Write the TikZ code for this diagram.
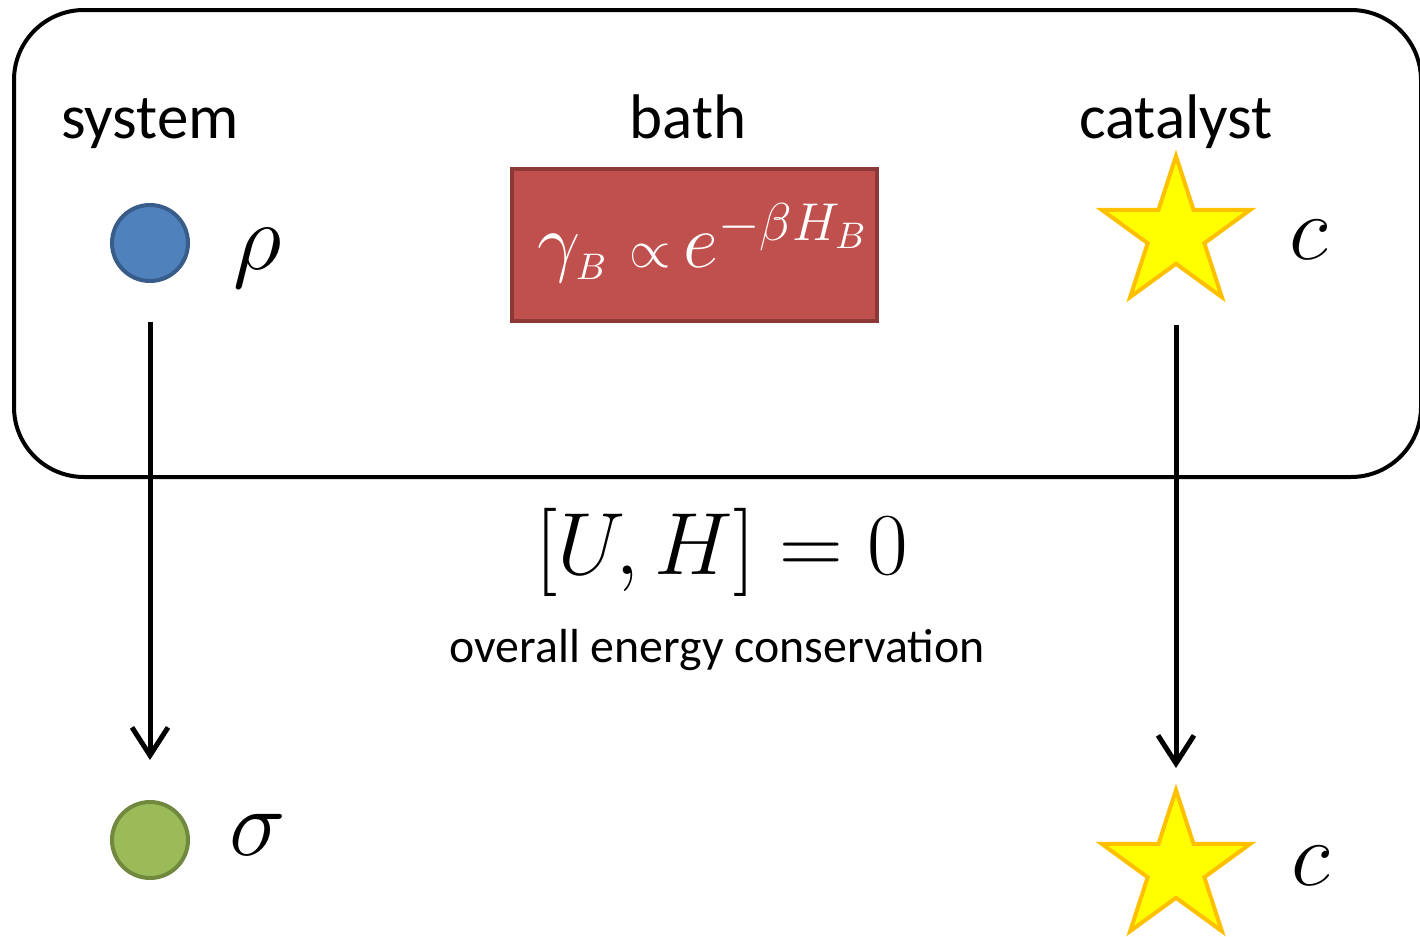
\documentclass[tikz,border=0pt]{standalone}
\usepackage{amsmath}
\usepackage{graphicx}
\usepackage{fontspec}
\setmainfont{Carlito}
\usetikzlibrary{shapes.geometric,arrows.meta}
\definecolor{bluefill}{HTML}{4F81BD}
\definecolor{blueline}{HTML}{385D8A}
\definecolor{greenfill}{HTML}{9BBB59}
\definecolor{greenline}{HTML}{71893F}
\definecolor{redfill}{HTML}{C0504D}
\definecolor{redline}{HTML}{8C3836}
\definecolor{starfill}{HTML}{FFFF00}
\definecolor{starline}{HTML}{FFC000}
\newcommand{\scaledmath}[2]{\scalebox{#1}{\fontsize{20}{24}\selectfont$#2$}}
\tikzset{
  lbl/.style={font=\fontsize{31.5}{36}\selectfont, inner sep=0pt, anchor=base},
  mathlbl/.style={inner sep=0pt},
  dot/.style={circle, minimum size=38pt, inner sep=0pt, line width=2pt},
  starnode/.style={star, star points=5, star point ratio=2.618, minimum size=78pt, inner sep=0pt, line width=2pt, draw=starline, fill=starfill},
  arr/.style={line width=2.5pt, -{Straight Barb[length=14pt,width=18pt,line width=2.5pt]}},
}
\begin{document}
\begin{tikzpicture}[x=0.5pt,y=-0.5pt]
\clip (0,0) rectangle (1420,937);
% outer frame
\draw[line width=2pt, rounded corners=35pt] (14,10) rectangle (1421,477);
% headings
\node[lbl] (hsys) at (150,138) {system};
\node[lbl] (hbath) at (688,138) {bath};
\node[lbl] (hcat) at (1176,138) {catalyst};
% system
\node[dot, fill=bluefill, draw=blueline] (rho) at (150,243) {};
\node[mathlbl] (rholbl) at (258,258) {\scaledmath{2.3}{\rho}};
\node[dot, fill=greenfill, draw=greenline] (sigma) at (150,840) {};
\node[mathlbl] (sigmalbl) at (258,835) {\scaledmath{2.3}{\sigma}};
% bath
\node[draw=redline, fill=redfill, line width=2pt, minimum width=182.5pt, minimum height=76pt, inner sep=0pt] (bath) at (694.5,245) {};
\node[text=white, inner sep=0pt] (bathlbl) at (703,243) {\scaledmath{1.85}{\gamma_{\scriptscriptstyle B}\;{\scriptstyle\propto}\,e^{-\beta H_B}}};
% catalyst
\node[starnode] (s1) at (1176,234) {};
\node[mathlbl] (c1) at (1309,240) {\scaledmath{2.2}{c}};
\node[starnode] (s2) at (1176,868) {};
\node[mathlbl] (c2) at (1311,866) {\scaledmath{2.2}{c}};
% arrows
\draw[arr, shorten <=19.5pt, shorten >=20pt] (rho) -- (sigma);
\draw[arr, shorten <=45.5pt, shorten >=50pt] (s1.center) -- (s2.center);
% centre texts
\node[inner sep=0pt] (comm) at (722,552) {\scaledmath{2.13}{[U,H]=0}};
\node[font=\fontsize{23.9}{28}\selectfont, inner sep=0pt] (cons) at (717,650) {overall energy conservation};
\end{tikzpicture}
\end{document}
